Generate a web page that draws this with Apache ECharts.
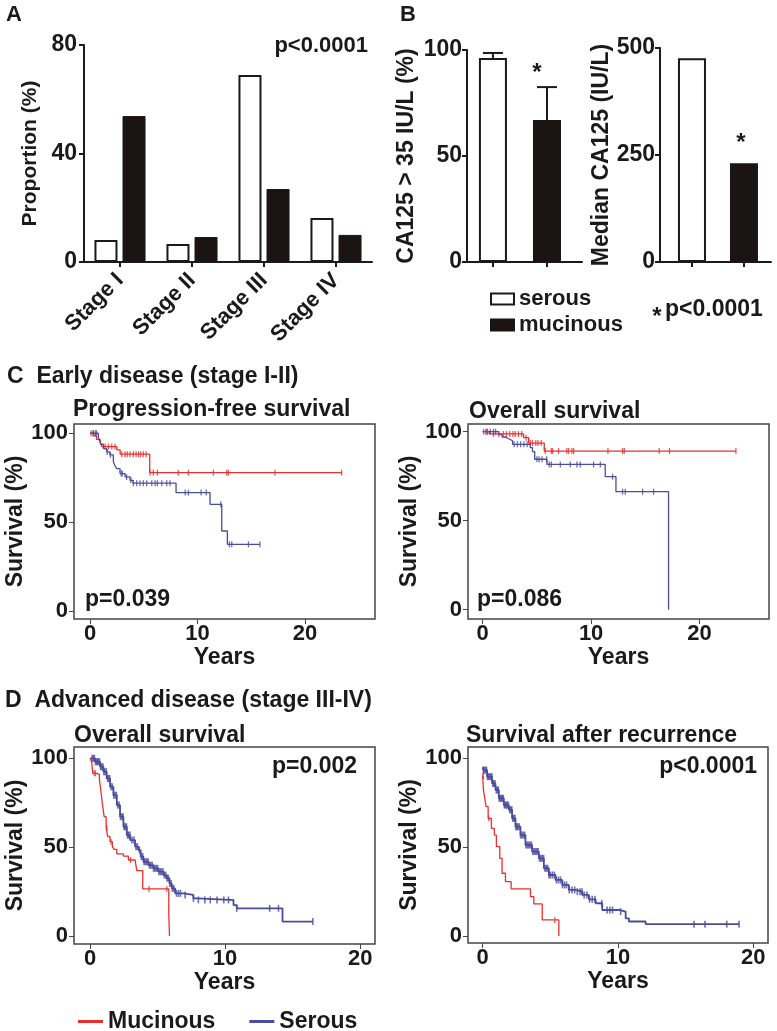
<!DOCTYPE html>
<html><head><meta charset="utf-8">
<script src="https://cdn.jsdelivr.net/npm/echarts@6/dist/echarts.min.js"></script>
<style>html,body{margin:0;padding:0;background:#fff}#c{width:777px;height:1031px}</style>
</head><body><div id="c"></div>
<script>
const FONT = '"Liberation Sans", Arial, Helvetica, sans-serif';
const INK = '#1a1a1a';
const RED = '#e8302f';
const BLUE = '#4a4c9c';

// ---------- Panel A: stage distribution ----------
const stageCats = ['Stage I', 'Stage II', 'Stage III', 'Stage IV'];
const stageSerous = [8.1, 6.6, 68.9, 16.2];
const stageMucinous = [53.8, 9.2, 26.9, 10.0];

// ---------- Panel B: CA125 ----------
const bGroups = [0, 1];                 // 0 = serous, 1 = mucinous
const ca125Pct = [96.2, 67.0];
const ca125PctErrTop = [98.6, 82.5];
const ca125Median = [476, 231];

// ---------- Panel C: early disease, PFS ----------
const cPfsMucT = [0, 0.35, 0.6, 0.95, 1.1, 2.5, 2.8, 5.55, 23.4];
const cPfsMucS = [100, 98.5, 96.5, 94.5, 92.5, 90.6, 88.2, 77.8, 77.8];
const cPfsMucC = [0.1, 0.3, 1.4, 1.71, 2.02, 2.33, 2.95, 3.26, 3.47, 3.72, 4.03, 4.28, 4.5, 4.71, 4.96, 5.21, 5.58, 5.89, 6.26, 8.2, 9.15, 11.47, 12.71, 12.87, 17.2, 23.4];
const cPfsSerT = [0, 0.77, 0.9, 1.05, 1.24, 1.55, 1.85, 2.17, 2.3, 2.48, 2.79, 3.26, 3.72, 4.0, 8.0, 11.16, 12.25, 12.77, 15.8];
const cPfsSerS = [100, 97.6, 95.5, 93.8, 91.3, 89.5, 87.8, 84.0, 82.0, 80.1, 77.3, 75.4, 73.5, 71.9, 66.6, 60.0, 45.0, 37.5, 37.5];
const cPfsSerC = [0.3, 0.5, 0.6, 1.6, 1.9, 2.9, 3.0, 3.4, 3.8, 4.03, 4.34, 4.65, 4.96, 5.27, 5.74, 6.05, 6.26, 6.67, 7.13, 7.44, 8.85, 9.15, 10.33, 10.8, 12.16, 12.96, 13.18, 14.73, 15.8];

// ---------- Panel C: early disease, OS ----------
const cOsMucT = [0, 0.61, 3.78, 4.24, 5.68, 23.35];
const cOsMucS = [100, 98.7, 96.6, 93.6, 89.1, 89.1];
const cOsMucC = [0.1, 0.3, 0.45, 1.0, 1.5, 1.9, 2.2, 2.5, 2.8, 3.0, 3.3, 3.6, 4.0, 4.4, 4.6, 4.9, 5.1, 5.4, 5.78, 6.33, 6.45, 7.0, 7.77, 7.93, 8.23, 8.39, 11.55, 12.9, 13.06, 16.28, 17.23, 23.35];
const cOsSerT = [0, 1.47, 1.8, 2.09, 2.4, 2.76, 4.39, 4.6, 4.8, 5.93, 11.3, 12.29, 17.14];
const cOsSerS = [100, 98.3, 97.0, 96.0, 94.9, 92.9, 91.0, 88.8, 84.5, 81.6, 74.7, 66.3, 0];
const cOsSerC = [0.4, 0.7, 1.0, 1.2, 2.9, 3.2, 3.5, 3.8, 4.1, 5.0, 5.2, 5.47, 5.9, 6.14, 6.33, 7.16, 8.08, 8.69, 9.0, 10.23, 10.85, 11.98, 12.9, 13.15, 14.75, 15.76];

// ---------- Panel D: advanced disease, OS ----------
const dOsMucT = [0, 0.12, 0.2, 0.49, 0.69, 0.79, 0.91, 1.04, 1.19, 1.31, 1.48, 1.65, 1.78, 1.98, 2.47, 2.84, 3.33, 3.46, 3.9, 5.83, 5.88];
const dOsMucS = [100, 98.1, 91.6, 91.0, 88.2, 82.2, 74.7, 67.2, 60.6, 55.9, 53.1, 50.3, 48.8, 46.2, 45.0, 42.8, 41.8, 36.8, 26.5, 12.8, 0];
const dOsMucC = [0.3, 0.4, 1.25, 1.55, 3.0, 4.37, 5.68];
const dOsSerT = [0, 0.37, 0.74, 0.99, 1.23, 1.48, 1.73, 1.98, 2.22, 2.47, 2.72, 2.96, 3.33, 3.58, 3.75, 3.95, 4.32, 4.69, 5.06, 5.43, 5.68, 5.88, 6.05, 6.30, 6.91, 7.65, 7.9, 10.37, 10.62, 10.86, 14.07, 14.25, 16.5];
const dOsSerS = [100, 98.1, 95.3, 92.5, 88.7, 84.0, 79.3, 73.7, 67.2, 61.5, 56.8, 54.0, 50.3, 48.4, 44.7, 41.8, 39.9, 38.1, 36.2, 34.3, 32.5, 29.6, 26.8, 24.0, 23.1, 21.2, 20.3, 20.3, 17.4, 15.6, 15.6, 8.1, 8.1];
const dOsSerC = [0.15, 0.25, 0.32, 0.4, 0.48, 0.55, 0.62, 0.7, 0.78, 0.85, 0.95, 1.02, 1.1, 1.2, 1.3, 1.38, 1.45, 1.55, 1.65, 1.75, 1.85, 1.95, 2.05, 2.15, 2.25, 2.35, 2.45, 2.52, 2.6, 2.7, 2.78, 2.85, 2.95, 3.1, 3.25, 3.4, 3.5, 3.65, 3.8, 3.9, 4.0, 4.1, 4.2, 4.3, 4.4, 4.5, 4.6, 4.7, 4.8, 4.9, 5.0, 5.1, 5.2, 5.3, 5.4, 5.5, 5.6, 5.7, 5.8, 5.9, 6.0, 6.1, 6.2, 6.4, 6.55, 6.7, 7.04, 7.65, 8.02, 8.5, 8.9, 9.4, 9.9, 10.25, 10.86, 13.3, 13.95, 16.5];

// ---------- Panel D: survival after recurrence ----------
const dSarMucT = [0, 0.05, 0.15, 0.25, 0.4, 0.64, 0.86, 1.01, 1.26, 1.43, 1.68, 2.10, 3.53, 3.78, 4.40, 5.63];
const dSarMucS = [90, 82.2, 77.5, 72.8, 66.2, 60.6, 56.8, 50.3, 43.7, 35.3, 30.6, 26.5, 22.1, 18.0, 9.0, 0];
const dSarMucC = [0.02, 0.03, 0.45, 5.33];
const dSarSerT = [0, 0.05, 0.32, 0.69, 0.94, 1.19, 1.56, 1.93, 2.17, 2.42, 2.79, 3.16, 3.65, 4.15, 4.52, 4.89, 5.38, 5.88, 6.37, 6.86, 7.36, 7.85, 8.35, 8.84, 10.07, 10.57, 10.81, 12.05, 18.96];
const dSarSerS = [95, 93.4, 89.7, 85.9, 82.2, 77.5, 73.7, 71.0, 66.2, 61.5, 56.8, 51.2, 47.5, 43.7, 38.1, 34.3, 31.5, 28.7, 25.9, 24.9, 23.1, 20.6, 18.4, 14.6, 13.7, 9.9, 8.1, 6.6, 6.6];
const dSarSerC = [0.05, 0.1, 0.2, 0.28, 0.35, 0.42, 0.5, 0.6, 0.68, 0.75, 0.82, 0.9, 1.0, 1.08, 1.15, 1.22, 1.3, 1.38, 1.45, 1.52, 1.6, 1.68, 1.75, 1.82, 1.9, 2.0, 2.08, 2.15, 2.22, 2.3, 2.38, 2.45, 2.52, 2.6, 2.7, 2.8, 2.9, 3.0, 3.1, 3.2, 3.3, 3.4, 3.5, 3.6, 3.7, 3.8, 3.9, 4.0, 4.1, 4.2, 4.3, 4.4, 4.5, 4.6, 4.7, 4.8, 4.9, 5.0, 5.15, 5.3, 5.45, 5.6, 5.75, 5.9, 6.05, 6.2, 6.4, 6.6, 6.8, 7.0, 7.2, 7.35, 7.5, 7.7, 7.9, 8.1, 8.3, 8.8, 9.2, 9.4, 9.6, 10.2, 15.63, 16.44, 18.05, 18.96];

const kmTicksX = [0, 10, 20];
const kmTicksY = [0, 50, 100];

// ---------- helpers ----------
function stepAt(T, S, t) {
  let v = S[0];
  for (let i = 0; i < T.length; i++) { if (T[i] <= t) v = S[i]; else break; }
  return v;
}
const txt = (size) => ({ fontFamily: FONT, fontWeight: 'bold', fontSize: size, color: INK });

function kmLine(g, name, color, T, S, w) {
  return {
    type: 'line', name, xAxisIndex: g, yAxisIndex: g, step: 'end', showSymbol: false,
    lineStyle: { color, width: w || 1.3 }, itemStyle: { color }, animation: false, z: 3,
    data: T.map((t, i) => [t, S[i]])
  };
}
function kmCensor(g, name, color, T, S, C, sz) {
  return {
    type: 'scatter', name, xAxisIndex: g, yAxisIndex: g, symbol: 'rect', symbolSize: sz || [1.3, 6],
    itemStyle: { color }, animation: false, z: 4, silent: true,
    data: C.map(t => [t, stepAt(T, S, t)])
  };
}
function kmX(g, min, max) {
  return {
    gridIndex: g, type: 'value', min, max,
    axisLine: { show: false, onZero: false },
    axisTick: { show: true, length: 5, lineStyle: { color: '#444', width: 1 }, customValues: kmTicksX },
    axisLabel: { ...txt(22), margin: 4, customValues: kmTicksX },
    splitLine: { show: false },
    name: 'Years', nameLocation: 'middle', nameGap: 25, nameTextStyle: txt(23)
  };
}
function kmY(g, min, max) {
  return {
    gridIndex: g, type: 'value', min, max,
    axisLine: { show: false, onZero: false },
    axisTick: { show: true, length: 5, lineStyle: { color: '#444', width: 1 }, customValues: kmTicksY },
    axisLabel: { ...txt(22), margin: 6, customValues: kmTicksY },
    splitLine: { show: false },
    name: 'Survival (%)', nameLocation: 'middle', nameRotate: 90, nameGap: 33, nameTextStyle: txt(23)
  };
}
const kmGrid = (left, top, width, height) => ({ left, top, width, height, show: true, borderColor: '#444', borderWidth: 1.5, backgroundColor: 'transparent' });
const barAxisLine = { show: true, onZero: false, lineStyle: { color: INK, width: 2 } };
const barAxisTick = { show: true, length: 5, lineStyle: { color: INK, width: 2 } };

function errRender(params, api) {
  const x = api.value(0), lo = api.value(1), hi = api.value(2);
  const p1 = api.coord([x, lo]), p2 = api.coord([x, hi]);
  return { type: 'group', children: [
    { type: 'line', shape: { x1: p1[0], y1: p1[1], x2: p2[0], y2: p2[1] }, style: { stroke: INK, lineWidth: 2 } },
    { type: 'line', shape: { x1: p2[0] - 10, y1: p2[1], x2: p2[0] + 10, y2: p2[1] }, style: { stroke: INK, lineWidth: 2 } }
  ] };
}
function starRender(dx, dy) {
  return (params, api) => {
    const p = api.coord([api.value(0), api.value(1)]);
    return { type: 'text', x: p[0] + dx, y: p[1] + dy, style: { text: '*', fontFamily: FONT, fontWeight: 'bold', fontSize: 24, fill: INK, align: 'center', verticalAlign: 'middle' } };
  };
}
const G = (text, x, y, size, align) => ({ type: 'text', x, y, silent: true, style: { text, fontFamily: FONT, fontWeight: 'bold', fontSize: size, fill: INK, align: align || 'left', verticalAlign: 'middle' } });

const option = {
  backgroundColor: '#fff',
  animation: false,
  grid: [
    { left: 84, top: 45, width: 288, height: 217 },           // 0 A
    { left: 467, top: 50, width: 115, height: 212 },          // 1 B left
    { left: 660, top: 48, width: 111, height: 214 },          // 2 B right
    kmGrid(74, 424, 301, 195),                                 // 3 C left
    kmGrid(468, 424, 301, 195),                                // 4 C right
    kmGrid(74, 747, 301, 197),                                 // 5 D left
    kmGrid(468, 747, 300, 196)                                 // 6 D right
  ],
  xAxis: [
    { gridIndex: 0, type: 'category', data: stageCats, axisLine: barAxisLine,
      axisTick: { ...barAxisTick, alignWithLabel: true },
      axisLabel: { ...txt(22), rotate: 45, margin: 15, interval: 0 } },
    { gridIndex: 1, type: 'value', min: -0.48, max: 1.648, axisLine: barAxisLine,
      axisTick: { ...barAxisTick, customValues: bGroups }, axisLabel: { show: false }, splitLine: { show: false } },
    { gridIndex: 2, type: 'value', min: -0.615, max: 1.52, axisLine: barAxisLine,
      axisTick: { ...barAxisTick, customValues: bGroups }, axisLabel: { show: false }, splitLine: { show: false } },
    kmX(3, -1.49, 26.5),
    kmX(4, -1.35, 26.4),
    kmX(5, -1.19, 21.1),
    kmX(6, -1.09, 21.1)
  ],
  yAxis: [
    { gridIndex: 0, type: 'value', min: 0, max: 80, interval: 40, axisLine: barAxisLine, axisTick: barAxisTick,
      axisLabel: { ...txt(23), margin: 7 }, splitLine: { show: false },
      name: 'Proportion (%)', nameLocation: 'middle', nameRotate: 90, nameGap: 43, nameTextStyle: txt(21) },
    { gridIndex: 1, type: 'value', min: 0, max: 100, interval: 50, axisLine: barAxisLine, axisTick: barAxisTick,
      axisLabel: { ...txt(23), margin: 5 }, splitLine: { show: false },
      name: 'CA125 > 35 IU/L (%)', nameLocation: 'middle', nameRotate: 90, nameGap: 49, nameTextStyle: txt(23) },
    { gridIndex: 2, type: 'value', min: 0, max: 500, interval: 250, axisLine: barAxisLine, axisTick: barAxisTick,
      axisLabel: { ...txt(23), margin: 5 }, splitLine: { show: false },
      name: 'Median CA125 (IU/L)', nameLocation: 'middle', nameRotate: 90, nameGap: 45, nameTextStyle: txt(23) },
    kmY(3, -4.5, 105.2),
    kmY(4, -5.2, 104.3),
    kmY(5, -4.5, 106.4),
    kmY(6, -4.0, 106.4)
  ],
  legend: [
    { data: [{ name: 'Mucinous', icon: 'rect' }, { name: 'Serous', icon: 'rect' }], left: 73, top: 1005,
      itemWidth: 25, itemHeight: 3, itemGap: 34, selectedMode: false, textStyle: txt(23) },
    { data: [{ name: 'serous', icon: 'rect' }, { name: 'mucinous', icon: 'rect' }], orient: 'vertical', left: 485, top: 283,
      itemWidth: 23, itemHeight: 11, itemGap: 4, selectedMode: false, textStyle: txt(22) }
  ],
  series: [
    { type: 'bar', name: 'serous', xAxisIndex: 0, yAxisIndex: 0, data: stageSerous, barWidth: 23, barGap: '22%',
      itemStyle: { color: '#fff', borderColor: INK, borderWidth: 2 } },
    { type: 'bar', name: 'mucinous', xAxisIndex: 0, yAxisIndex: 0, data: stageMucinous, barWidth: 23, barGap: '22%',
      itemStyle: { color: '#1a1414', borderColor: '#1a1414', borderWidth: 1 } },

    { type: 'bar', name: 'serous', xAxisIndex: 1, yAxisIndex: 1, data: [[bGroups[0], ca125Pct[0]]], barWidth: 28, barGap: '-100%',
      itemStyle: { color: '#fff', borderColor: INK, borderWidth: 2 } },
    { type: 'bar', name: 'mucinous', xAxisIndex: 1, yAxisIndex: 1, data: [[bGroups[1], ca125Pct[1]]], barWidth: 28, barGap: '-100%',
      itemStyle: { color: '#1a1414' } },
    { type: 'custom', xAxisIndex: 1, yAxisIndex: 1, renderItem: errRender, z: 5, silent: true,
      data: bGroups.map((g, i) => [g, ca125Pct[i], ca125PctErrTop[i]]) },
    { type: 'custom', xAxisIndex: 1, yAxisIndex: 1, renderItem: starRender(-10, -14), z: 5, silent: true,
      data: [[bGroups[1], ca125PctErrTop[1]]] },

    { type: 'bar', name: 'serous', xAxisIndex: 2, yAxisIndex: 2, data: [[bGroups[0], ca125Median[0]]], barWidth: 28, barGap: '-100%',
      itemStyle: { color: '#fff', borderColor: INK, borderWidth: 2 } },
    { type: 'bar', name: 'mucinous', xAxisIndex: 2, yAxisIndex: 2, data: [[bGroups[1], ca125Median[1]]], barWidth: 28, barGap: '-100%',
      itemStyle: { color: '#1a1414' } },
    { type: 'custom', xAxisIndex: 2, yAxisIndex: 2, renderItem: starRender(-3, -20), z: 5, silent: true,
      data: [[bGroups[1], ca125Median[1]]] },

    kmLine(3, 'Mucinous', RED, cPfsMucT, cPfsMucS),
    kmLine(3, 'Serous', BLUE, cPfsSerT, cPfsSerS),
    kmCensor(3, 'Mucinous', RED, cPfsMucT, cPfsMucS, cPfsMucC),
    kmCensor(3, 'Serous', BLUE, cPfsSerT, cPfsSerS, cPfsSerC),

    kmLine(4, 'Mucinous', RED, cOsMucT, cOsMucS),
    kmLine(4, 'Serous', BLUE, cOsSerT, cOsSerS),
    kmCensor(4, 'Mucinous', RED, cOsMucT, cOsMucS, cOsMucC),
    kmCensor(4, 'Serous', BLUE, cOsSerT, cOsSerS, cOsSerC),

    kmLine(5, 'Serous', BLUE, dOsSerT, dOsSerS, 1.8),
    kmLine(5, 'Mucinous', RED, dOsMucT, dOsMucS),
    kmCensor(5, 'Serous', BLUE, dOsSerT, dOsSerS, dOsSerC, [1.6, 7]),
    kmCensor(5, 'Mucinous', RED, dOsMucT, dOsMucS, dOsMucC),

    kmLine(6, 'Serous', BLUE, dSarSerT, dSarSerS, 1.8),
    kmLine(6, 'Mucinous', RED, dSarMucT, dSarMucS),
    kmCensor(6, 'Serous', BLUE, dSarSerT, dSarSerS, dSarSerC, [1.6, 7]),
    kmCensor(6, 'Mucinous', RED, dSarMucT, dSarMucS, dSarMucC)
  ],
  graphic: [
    G('A', 6, 15, 22),
    G('B', 400, 15, 22),
    G('p<0.0001', 368, 46, 22, 'right'),
    G('*', 657, 317, 24, 'center'),
    G('p<0.0001', 665, 310, 23),
    G('C  Early disease (stage I-II)', 7, 377, 23),
    G('Progression-free survival', 73, 410, 23),
    G('Overall survival', 469, 412, 23),
    G('p=0.039', 85, 600, 23),
    G('p=0.086', 477, 600, 23),
    G('D  Advanced disease (stage III-IV)', 5, 701, 23),
    G('Overall survival', 74, 736, 23),
    G('Survival after recurrence', 466, 736, 23),
    G('p=0.002', 357, 767, 23, 'right'),
    G('p<0.0001', 757, 767, 23, 'right')
  ]
};
const chart = echarts.init(document.getElementById('c'), null, { renderer: 'canvas' });
chart.setOption(option);
</script></body></html>
